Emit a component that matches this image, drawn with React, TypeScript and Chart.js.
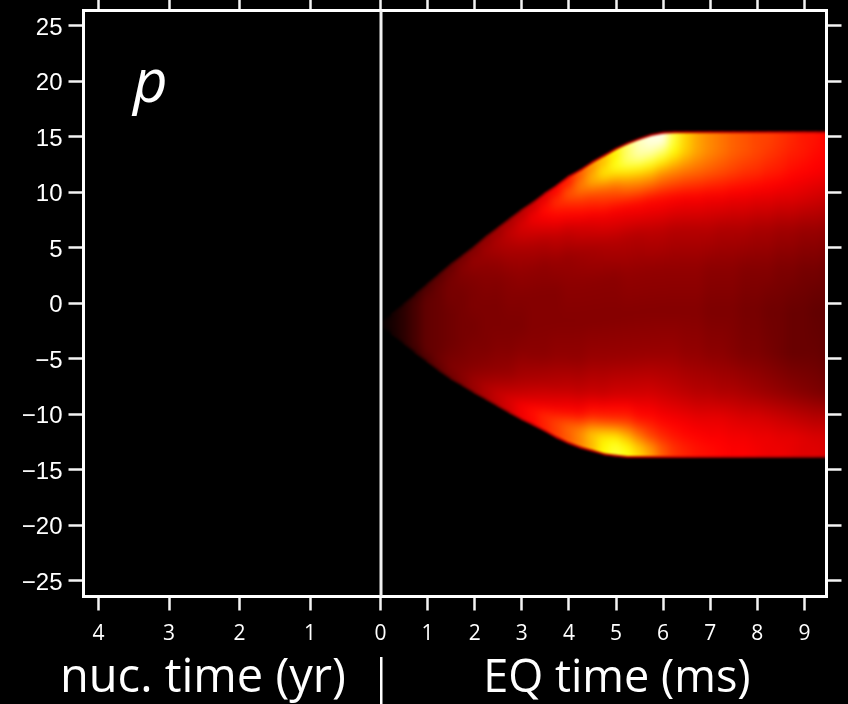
import React, { useEffect, useRef } from "react";
import { Chart, registerables } from "chart.js";

Chart.register(...registerables);

const eqTicks = [0, 1, 2, 3, 4, 5, 6, 7, 8, 9];
const nucTicks = [4, 3, 2, 1];
const yTicks = [25, 20, 15, 10, 5, 0, -5, -10, -15, -20, -25];
const panelLabel = "p";
const nucTitle = "nuc. time (yr)";
const eqTitle = "EQ time (ms)";

const times = [0, 0.25, 0.5, 0.75, 1, 1.25, 1.5, 1.75, 2, 2.25, 2.5, 2.75, 3, 3.25, 3.5, 3.75, 4, 4.25, 4.5, 4.75, 5, 5.25, 5.5, 5.75, 6, 6.25, 6.5, 6.75, 7, 7.25, 7.5, 7.75, 8, 8.25, 8.5, 8.75, 9, 9.25, 9.5];
const upperEdge = [-1.9, -1.0, -0.1, 0.8, 1.7, 2.6, 3.5, 4.3, 5.1, 6.0, 6.8, 7.6, 8.4, 9.1, 9.9, 10.6, 11.4, 12.0, 12.7, 13.3, 13.9, 14.4, 14.8, 15.15, 15.35, 15.4, 15.4, 15.4, 15.4, 15.4, 15.4, 15.4, 15.4, 15.4, 15.4, 15.4, 15.4, 15.4, 15.4];
const lowerEdge = [-1.9, -2.75, -3.6, -4.45, -5.25, -6.05, -6.8, -7.4, -8.05, -8.65, -9.25, -9.85, -10.45, -10.95, -11.5, -12.1, -12.6, -13.0, -13.3, -13.6, -13.75, -13.85, -13.85, -13.85, -13.85, -13.85, -13.85, -13.85, -13.85, -13.85, -13.85, -13.85, -13.85, -13.85, -13.85, -13.85, -13.85, -13.85, -13.85];
const profileStops = [0.025, 0.06, 0.12, 0.2, 0.3, 0.42, 0.55, 0.68, 0.8, 0.88, 0.94, 0.975];
const profiles = [
  [0, 0, 0, 0, 0, 0, 0, 0, 0, 0, 0, 0],
  [2, 3, 3, 3, 3, 3, 3, 3, 3, 3, 3, 2],
  [5, 6, 6, 6, 6, 6, 6, 6, 6, 6, 6, 5],
  [7, 9, 10, 10, 10, 10, 10, 10, 10, 10, 9, 7],
  [10, 12, 13, 14, 14, 14, 14, 14, 14, 14, 12, 10],
  [12, 14, 15, 15, 15, 15, 15, 15, 15, 16, 15, 13],
  [14, 16, 17, 17, 17, 16, 16, 16, 17, 18, 18, 15],
  [16, 19, 19, 18, 17, 17, 17, 17, 18, 19, 20, 18],
  [18, 21, 21, 19, 18, 18, 17, 18, 19, 21, 23, 21],
  [20, 23, 22, 20, 19, 18, 18, 18, 20, 23, 26, 24],
  [22, 25, 24, 21, 19, 18, 18, 19, 21, 25, 29, 27],
  [24, 28, 26, 23, 20, 19, 18, 19, 22, 27, 32, 30],
  [26, 31, 29, 24, 21, 19, 18, 20, 24, 29, 36, 34],
  [29, 35, 31, 25, 21, 19, 19, 20, 25, 31, 39, 37],
  [32, 39, 34, 26, 21, 19, 19, 20, 26, 33, 43, 41],
  [36, 44, 37, 28, 22, 19, 19, 21, 27, 35, 47, 45],
  [40, 50, 40, 29, 22, 20, 19, 21, 28, 37, 52, 50],
  [50, 56, 43, 31, 23, 20, 19, 21, 28, 38, 57, 56],
  [58, 64, 46, 33, 24, 20, 19, 22, 29, 42, 66, 64],
  [65, 72, 50, 35, 25, 20, 19, 22, 29, 43, 71, 74],
  [73, 78, 54, 36, 26, 20, 19, 22, 30, 43, 72, 80],
  [85, 85, 60, 37, 26, 21, 19, 22, 30, 43, 66, 76],
  [93, 90, 63, 38, 26, 21, 19, 22, 30, 39, 56, 68],
  [97, 90, 64, 38, 27, 21, 19, 22, 30, 38, 48, 60],
  [98, 85, 60, 38, 27, 21, 19, 22, 29, 36, 43, 50],
  [80, 75, 57, 37, 26, 21, 19, 22, 28, 35, 40, 44],
  [68, 67, 54, 36, 26, 21, 19, 21, 27, 34, 38, 41],
  [61, 61, 52, 36, 26, 21, 19, 21, 26, 33, 37, 39],
  [57, 57, 50, 35, 26, 20, 18, 20, 26, 33, 36, 38],
  [54, 54, 48, 35, 25, 20, 18, 20, 25, 33, 36, 37],
  [51, 51, 46, 34, 25, 20, 18, 19, 25, 32, 35, 36],
  [49, 49, 44, 34, 25, 19, 17, 18, 24, 31, 35, 36],
  [47, 47, 43, 33, 24, 19, 17, 18, 23, 31, 34, 35],
  [46, 45, 41, 33, 24, 19, 16, 17, 22, 30, 34, 34],
  [44, 43, 40, 32, 23, 18, 16, 16, 21, 29, 33, 34],
  [42, 41, 38, 32, 23, 18, 15, 15, 20, 28, 33, 33],
  [40, 40, 37, 31, 22, 17, 15, 15, 19, 27, 32, 32],
  [39, 38, 36, 30, 22, 17, 14, 15, 18, 26, 31, 32],
  [37, 37, 35, 29, 21, 16, 14, 14, 17, 26, 31, 31],
];

// The left half of the axis runs in years, at this many ms-widths per year.
const YEAR_SCALE = 70.5 / 47.1;
const BAR_OVERSHOOT = 2.5;

const clip01 = (v: number) => Math.max(0, Math.min(1, v));
function hot(v: number) {
  const r = clip01(v / 0.365);
  const g = clip01((v - 0.365) / 0.381);
  const b = clip01((v - 0.746) / 0.254);
  return `rgb(${Math.round(r * 255)},${Math.round(g * 255)},${Math.round(b * 255)})`;
}

function columnGradient(chart: any, index: number) {
  const y = chart.scales.y;
  const top = y.getPixelForValue(upperEdge[index]);
  const bottom = y.getPixelForValue(lowerEdge[index]);
  if (!(bottom > top)) return "#000";
  const grad = chart.ctx.createLinearGradient(0, top, 0, bottom);
  const p = profiles[index].map((v) => v / 100);
  const pos = [0, ...profileStops, 1];
  const vals = [p[0], ...p, p[p.length - 1]];
  for (let i = 0; i < pos.length - 1; i++) {
    for (let k = 0; k < 4; k++) {
      const f = k / 4;
      grad.addColorStop(pos[i] + (pos[i + 1] - pos[i]) * f, hot(vals[i] + (vals[i + 1] - vals[i]) * f));
    }
  }
  grad.addColorStop(1, hot(vals[vals.length - 1]));
  return grad;
}

function snapshot(canvas: HTMLCanvasElement) {
  const copy = document.createElement("canvas");
  copy.width = canvas.width;
  copy.height = canvas.height;
  copy.getContext("2d")!.drawImage(canvas, 0, 0);
  return copy;
}

const plotPlugin = {
  id: "plotPlugin",
  beforeDraw(chart: any) {
    const { ctx, width, height } = chart;
    ctx.save();
    ctx.fillStyle = "#000";
    ctx.fillRect(0, 0, width, height);
    ctx.restore();
  },
  afterDatasetsDraw(chart: any) {
    const { ctx, chartArea: a, canvas, scales, width: W, height: H } = chart;
    const px = (i: number) => scales.x.getPixelForValue(times[i]);
    const up = (i: number) => scales.y.getPixelForValue(upperEdge[i]);
    const low = (i: number) => scales.y.getPixelForValue(lowerEdge[i]);
    // Carry the last column out to the canvas edge so the softening does not fade at the frame.
    ctx.drawImage(canvas, a.right - 1, 0, 1, H, a.right - 1, 0, W - a.right + 1, H);
    // Smooth the columns into one another.
    const first = snapshot(canvas);
    ctx.save();
    ctx.filter = "blur(4px)";
    ctx.drawImage(first, 0, 0);
    ctx.restore();
    // Keep only what lies between the two envelope edges.
    ctx.save();
    ctx.fillStyle = "#000";
    ctx.beginPath();
    ctx.rect(0, 0, W, H);
    times.forEach((_, i) => {
      if (i === 0) ctx.moveTo(px(i), up(i));
      else ctx.lineTo(px(i), up(i));
    });
    const last = times.length - 1;
    ctx.lineTo(W + 20, up(last));
    ctx.lineTo(W + 20, low(last));
    for (let i = last; i >= 0; i--) ctx.lineTo(px(i), low(i));
    ctx.closePath();
    ctx.fill("evenodd");
    // A dark-red rim, so the falloff to black passes through the red end of the colour scale.
    ctx.lineWidth = 2;
    ctx.lineCap = "round";
    for (let i = 0; i < last; i++) {
      const p = profiles[i + 1];
      const xEnd = i + 1 === last ? W + 20 : px(i + 1);
      ctx.strokeStyle = hot(Math.min((p[0] / 100) * 0.7, 0.28));
      ctx.beginPath();
      ctx.moveTo(px(i), up(i));
      ctx.lineTo(xEnd, up(i + 1));
      ctx.stroke();
      ctx.strokeStyle = hot(Math.min((p[p.length - 1] / 100) * 0.7, 0.28));
      ctx.beginPath();
      ctx.moveTo(px(i), low(i));
      ctx.lineTo(xEnd, low(i + 1));
      ctx.stroke();
    }
    ctx.restore();
    // Soften the edge itself.
    const second = snapshot(canvas);
    ctx.save();
    ctx.filter = "blur(1.2px)";
    ctx.drawImage(second, 0, 0);
    ctx.restore();
    // Nothing of the plot remains outside the frame.
    ctx.save();
    ctx.fillStyle = "#000";
    ctx.beginPath();
    ctx.rect(0, 0, W, H);
    ctx.rect(a.left, a.top, a.right - a.left, a.bottom - a.top);
    ctx.fill("evenodd");
    ctx.restore();
  },
  afterDraw(chart: any) {
    const { ctx, chartArea: a, scales } = chart;
    const x0 = scales.x.getPixelForValue(0);
    ctx.save();
    ctx.strokeStyle = "#fff";
    ctx.lineWidth = 3;
    ctx.strokeRect(a.left, a.top, a.right - a.left, a.bottom - a.top);
    ctx.strokeStyle = "#f0f0f0";
    ctx.beginPath();
    ctx.moveTo(x0 + 0.5, a.top);
    ctx.lineTo(x0 + 0.5, a.bottom);
    ctx.stroke();

    ctx.fillStyle = "#fff";
    ctx.textBaseline = "alphabetic";
    ctx.textAlign = "center";
    ctx.font = '47px "Open Sans"';
    ctx.fillText(nucTitle, scales.x.getPixelForValue(-3.77), 692);
    ctx.font = '45px "Open Sans"';
    ctx.fillText(eqTitle, scales.x.getPixelForValue(5.02), 692);
    ctx.fillRect(x0 - 0.5, 657, 2.5, 47);
    ctx.textAlign = "left";
    ctx.font = 'italic 60px "Open Sans"';
    ctx.fillText(panelLabel, 133, 102);
    ctx.restore();
  },
};

const xValues = [...nucTicks.map((n) => -n * YEAR_SCALE), ...eqTicks];
const X_MIN = (83.5 - 380.5) / 47.1;
const X_MAX = (826.5 - 380.5) / 47.1;
const Y_MAX = (303.2 - 10.5) / 11.1;
const Y_MIN = (303.2 - 596.5) / 11.1;
const TICK = "#f4f4f4";

const setTicks = (values: number[]) => (axis: any) => {
  axis.ticks = values.map((value) => ({ value }));
};
const fit = (size: number, key: "width" | "height") => (axis: any) => {
  axis[key] = size;
  axis.paddingLeft = axis.paddingRight = axis.paddingTop = axis.paddingBottom = 0;
};
const xLabel = (v: number) => (v < 0 ? String(Math.round(-v / YEAR_SCALE)) : String(v));
const yLabel = (v: number) => String(v).replace("-", "\u2212");

export default function App() {
  const ref = useRef<HTMLCanvasElement>(null);
  useEffect(() => {
    document.body.style.background = "#000";
    const chart = new Chart(ref.current!, {
      type: "bar",
      data: {
        datasets: [
          {
            data: times.map((t, i) => ({ x: t, y: [lowerEdge[i] - BAR_OVERSHOOT, upperEdge[i] + BAR_OVERSHOOT] })),
            barThickness: 13,
            borderWidth: 0,
            backgroundColor: (c: any) =>
              c.dataIndex === undefined || !c.chart.chartArea ? "#000" : columnGradient(c.chart, c.dataIndex),
          },
        ],
      },
      options: {
        animation: false,
        responsive: false,
        devicePixelRatio: 1,
        layout: { padding: 0 },
        plugins: { legend: { display: false }, tooltip: { enabled: false }, title: { display: false } },
        scales: {
          x: {
            type: "linear",
            offset: false,
            position: "bottom",
            min: X_MIN,
            max: X_MAX,
            afterBuildTicks: setTicks(xValues),
            afterFit: fit(107.5, "height"),
            border: { display: false },
            grid: { offset: false, z: 1, drawOnChartArea: false, drawTicks: true, tickLength: 14, tickWidth: 2.5, tickColor: TICK },
            ticks: {
              z: 1,
              autoSkip: false,
              maxRotation: 0,
              color: "#fff",
              padding: 11,
              font: { family: '"Open Sans"', size: 21 },
              callback: xLabel,
            },
          },
          xTop: {
            type: "linear",
            offset: false,
            position: "top",
            min: X_MIN,
            max: X_MAX,
            afterBuildTicks: setTicks(xValues),
            afterFit: fit(10.5, "height"),
            border: { display: false },
            grid: { offset: false, z: 1, drawOnChartArea: false, drawTicks: true, tickLength: 11, tickWidth: 2.5, tickColor: TICK },
            ticks: { display: false },
          },
          y: {
            type: "linear",
            position: "left",
            min: Y_MIN,
            max: Y_MAX,
            afterBuildTicks: setTicks(yTicks),
            afterFit: fit(83.5, "width"),
            border: { display: false },
            grid: { z: 1, drawOnChartArea: false, drawTicks: true, tickLength: 15, tickWidth: 2.5, tickColor: TICK },
            ticks: {
              z: 1,
              autoSkip: false,
              color: "#fff",
              padding: 6,
              labelOffset: 2.5,
              font: { family: '"Liberation Sans"', size: 24 },
              callback: yLabel,
            },
          },
          yRight: {
            type: "linear",
            position: "right",
            min: Y_MIN,
            max: Y_MAX,
            afterBuildTicks: setTicks(yTicks),
            afterFit: fit(21.5, "width"),
            border: { display: false },
            grid: { z: 1, drawOnChartArea: false, drawTicks: true, tickLength: 15, tickWidth: 2.5, tickColor: TICK },
            ticks: { display: false },
          },
        },
      },
      plugins: [plotPlugin],
    } as any);
    return () => chart.destroy();
  }, []);
  return (
    <div style={{ position: "absolute", left: 0, top: 0, width: 848, height: 704, background: "#000" }}>
      <canvas ref={ref} width={848} height={704} style={{ display: "block" }} />
    </div>
  );
}
